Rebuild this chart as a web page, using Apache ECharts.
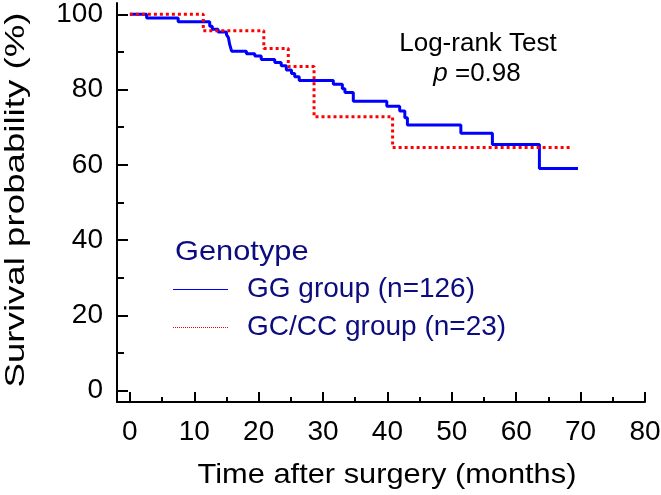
<!DOCTYPE html>
<html>
<head>
<meta charset="utf-8">
<script src="https://cdn.jsdelivr.net/npm/echarts@6/dist/echarts.min.js"></script>
<style>
html,body{margin:0;padding:0;background:#fff;}
#chart{width:661px;height:495px;}
</style>
</head>
<body>
<div id="chart"></div>
<script>
// ---- data ----
var ggName = 'GG group (n=126)';
var gcName = 'GC/CC group (n=23)';
var ggTimes = [0, 2.6, 7.5, 12.4, 12.8, 13.7, 15.0, 15.3, 15.5, 15.8, 18.1, 19.4, 20.4, 22.5, 23.5, 24.3, 25.1, 25.6, 26.3, 31.6, 33.0, 33.4, 34.7, 39.9, 41.9, 42.7, 43.1, 51.4, 56.3, 63.6, 69.6];
var ggSurv  = [100, 99.0, 98.0, 96.8, 96.0, 95.3, 94.6, 93.8, 92.0, 90.2, 89.5, 88.9, 88.0, 87.2, 86.3, 85.2, 84.3, 83.4, 82.4, 81.4, 80.2, 79.2, 76.9, 75.6, 74.3, 72.5, 70.6, 68.4, 65.4, 59.0, 59.0];
var gcTimes = [0, 11.4, 20.8, 24.6, 28.6, 40.8, 68.6];
var gcSurv  = [100, 95.6, 90.9, 86.1, 72.8, 64.6, 64.6];
var xMajorTicks = [0, 10, 20, 30, 40, 50, 60, 70, 80];
var xMinorTicks = [5, 15, 25, 35, 45, 55, 65, 75];
var yMajorTicks = [0, 20, 40, 60, 80, 100];
var yMinorTicks = [10, 30, 50, 70, 90];
var xTitle = 'Time after surgery (months)';
var yTitle = 'Survival probability (%)';
var legendTitle = 'Genotype';
var testTitle = 'Log-rank Test';
var pText = '{i|p} =0.98';

function pairs(ts, vs) { return ts.map(function (t, i) { return [t, vs[i]]; }); }

// legend icons: thin solid line and thin dotted line (bounds padded to the item height)
var solidIcon = 'path://M0,-7M0,7M0,0h55v1h-55z';
var dottedIcon = 'path://M0,-7M0,7';
for (var k = 0; k < 28; k++) { dottedIcon += 'M' + (2 * k) + ',0h1v1h-1z'; }

var FONT = "'Liberation Sans', Arial, sans-serif";
var NAVY = '#0c0c80';
var BLUE = '#0000ff';
var RED = '#ff0000';
var chart = echarts.init(document.getElementById('chart'), null, {renderer: 'canvas'});

var axisLineStyle = {color: '#000', width: 2};
var option = {
  animation: false,
  backgroundColor: '#fff',
  grid: {left: 117, right: 16, top: 3, bottom: 93, containLabel: false, outerBoundsMode: 'none'},
  xAxis: [{
    type: 'value', min: -2, max: 80,
    axisLine: {show: true, onZero: false, lineStyle: axisLineStyle},
    axisTick: {show: true, inside: true, length: 10, lineStyle: {color: '#000', width: 2}, customValues: xMajorTicks},
    axisLabel: {show: true, margin: 16, fontSize: 28, color: '#000', fontFamily: FONT, customValues: xMajorTicks},
    splitLine: {show: false}
  }, {
    type: 'value', min: -2, max: 80, position: 'bottom',
    axisLine: {show: false, onZero: false},
    axisTick: {show: true, inside: true, length: 5, lineStyle: {color: '#000', width: 2}, customValues: xMinorTicks},
    axisLabel: {show: false},
    splitLine: {show: false}
  }],
  yAxis: [{
    type: 'value', min: -3, max: 103,
    axisLine: {show: true, onZero: false, lineStyle: axisLineStyle},
    axisTick: {show: true, inside: true, length: 11, lineStyle: {color: '#000', width: 2}, customValues: yMajorTicks},
    axisLabel: {show: true, margin: 14, fontSize: 28, color: '#000', fontFamily: FONT, customValues: yMajorTicks},
    splitLine: {show: false}
  }, {
    type: 'value', min: -3, max: 103, position: 'left',
    axisLine: {show: false, onZero: false},
    axisTick: {show: true, inside: true, length: 7, lineStyle: {color: '#000', width: 2}, customValues: yMinorTicks},
    axisLabel: {show: false},
    splitLine: {show: false}
  }],
  legend: {
    orient: 'vertical', left: 173, top: 275, padding: 0,
    itemWidth: 55, itemHeight: 14, itemGap: 10,
    textStyle: {fontSize: 28, color: NAVY, fontFamily: FONT, padding: [0, 0, 0, 14]},
    data: [
      {name: ggName, icon: solidIcon, itemStyle: {color: BLUE, borderWidth: 0}},
      {name: gcName, icon: dottedIcon, itemStyle: {color: RED, borderWidth: 0}}
    ]
  },
  graphic: [
    {type: 'text', x: 387, y: 475, scaleX: 1.1, style: {text: xTitle, font: '28px ' + FONT, fill: '#000', align: 'center', verticalAlign: 'middle'}},
    {type: 'text', x: 16, y: 200, rotation: Math.PI / 2, scaleX: 1.31, style: {text: yTitle, font: '28px ' + FONT, fill: '#000', align: 'center', verticalAlign: 'middle'}},
    {type: 'text', x: 175, y: 252, scaleX: 1.1, style: {text: legendTitle, font: '28px ' + FONT, fill: NAVY, align: 'left', verticalAlign: 'middle'}},
    {type: 'text', x: 478, y: 44, style: {text: testTitle, font: '26px ' + FONT, fill: '#000', align: 'center', verticalAlign: 'middle'}},
    {type: 'text', x: 477, y: 74, style: {
      text: pText, font: '26px ' + FONT, fill: '#000', align: 'center', verticalAlign: 'middle',
      rich: {i: {fontStyle: 'italic', fontSize: 26, fontFamily: FONT, fill: '#000'}}
    }}
  ],
  series: [
    {
      name: ggName, type: 'line', step: 'end', xAxisIndex: 0, yAxisIndex: 0,
      data: pairs(ggTimes, ggSurv), symbol: 'none', showSymbol: false,
      lineStyle: {color: BLUE, width: 3}, itemStyle: {color: BLUE}, z: 2
    },
    {
      name: gcName, type: 'line', step: 'end', xAxisIndex: 0, yAxisIndex: 0,
      data: pairs(gcTimes, gcSurv), symbol: 'none', showSymbol: false,
      lineStyle: {color: RED, width: 3, type: [3, 3]}, itemStyle: {color: RED}, z: 3
    }
  ]
};
chart.setOption(option);
</script>
</body>
</html>
